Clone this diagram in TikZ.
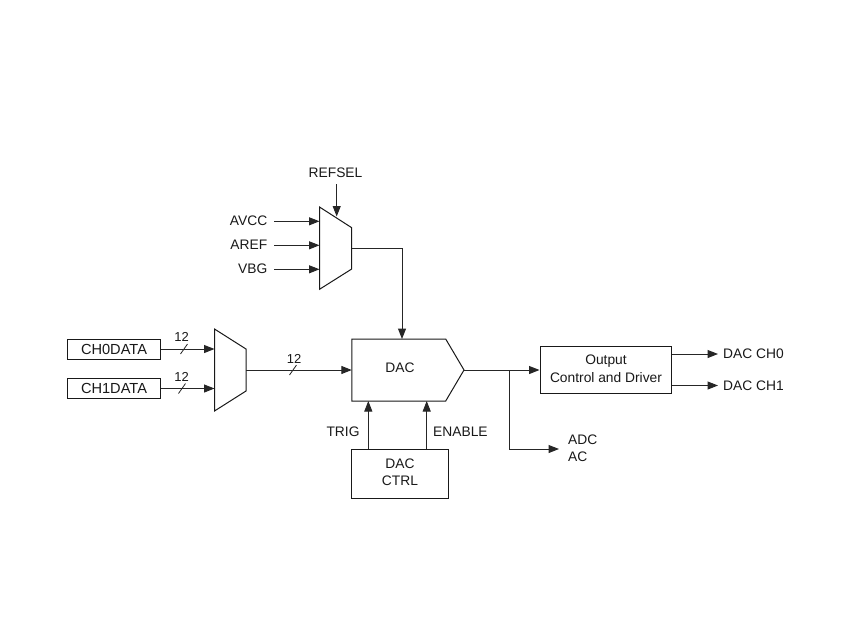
\documentclass[tikz,border=0pt]{standalone}
\usepackage{fontspec}
\setmainfont{Liberation Sans}
\usetikzlibrary{arrows.meta}
\tikzset{
  wire/.style={line width=1pt,draw=black!85},
  sig/.style={wire,-{Triangle[length=10.5pt,width=8pt]}},
  blockbox/.style={draw=black!90,line width=1pt,inner sep=0pt,align=center},
  shapeline/.style={draw=black!90,line width=1pt,line join=miter},
  lbl/.style={inner sep=0pt,font=\fontsize{13.8}{16}\selectfont,text=black!90,align=center},
  reglbl/.style={inner sep=0pt,font=\fontsize{14.6}{16}\selectfont,text=black!90,align=center},
  buswidth/.style={inner sep=0pt,font=\fontsize{13}{16}\selectfont,text=black!90},
  tick/.style={line width=0.8pt,draw=black!85}
}
\begin{document}
\begin{tikzpicture}[x=1pt,y=-1pt]
\useasboundingbox[fill=white] (0,0) rectangle (850,638);

% boxes
\node[blockbox,minimum width=93pt,minimum height=20pt,reglbl] (ch0) at (114,349) {CH0DATA};
\node[blockbox,minimum width=93pt,minimum height=20pt,reglbl] (ch1) at (114,388.5) {CH1DATA};
\node[blockbox,minimum width=131pt,minimum height=47pt] (out) at (605.8,369.8) {};
\node[lbl] (outa) at (606,361) {Output};
\node[lbl] (outb) at (606,378) {Control and Driver};
\node[blockbox,minimum width=97pt,minimum height=49pt] (ctrl) at (400,473.5) {};
\node[lbl] (ctrla) at (400,464) {DAC};
\node[lbl] (ctrlb) at (400,481) {CTRL};

% data mux
\draw[shapeline] (214.5,329) coordinate (mdtl) -- (246,349) coordinate (mdtr) -- (246,391) coordinate (mdbr) -- (214.5,411) coordinate (mdbl) -- cycle;
\coordinate (mdout) at (246,370);
\coordinate (mdin0) at (214.5,349);
\coordinate (mdin1) at (214.5,388.5);

% ref mux
\draw[shapeline] (319.5,207) coordinate (mrtl) -- (351.7,227.7) coordinate (mrtr) -- (351.7,269) coordinate (mrbr) -- (319.5,289.3) coordinate (mrbl) -- cycle;
\coordinate (mr1) at (319.5,221.3);
\coordinate (mr2) at (319.5,245.3);
\coordinate (mr3) at (319.5,269.3);
\coordinate (mrsel) at (336.7,216.5);
\coordinate (mrout) at (351.7,248.3);

% DAC
\draw[shapeline] (351.8,339) coordinate (dtl) -- (445.7,339) -- (464,370) coordinate (dtip) -- (445.7,401) -- (351.8,401) coordinate (dbl) -- cycle;
\node[lbl] (daclbl) at (400,368) {DAC};
\coordinate (dacin) at (351.8,370);
\coordinate (dacref) at (402,339);
\coordinate (dactrig) at (368.3,401);
\coordinate (dacen) at (426.7,401);

% labels
\node[lbl] (refsel) at (335.5,172.5) {REFSEL};
\node[lbl,anchor=east] (avcc) at (267.5,220.5) {AVCC};
\node[lbl,anchor=east] (aref) at (267.5,244.5) {AREF};
\node[lbl,anchor=east] (vbg) at (267.5,269) {VBG};
\node[lbl] (trig) at (343,432) {TRIG};
\node[lbl,anchor=west] (enable) at (433,432) {ENABLE};
\node[lbl,anchor=west] (ch0o) at (723,354) {DAC CH0};
\node[lbl,anchor=west] (ch1o) at (723,385.5) {DAC CH1};
\node[lbl,anchor=west] (adc) at (568,440) {ADC};
\node[lbl,anchor=west] (ac) at (568,457) {AC};
\node[buswidth] (w0) at (181.5,337) {12};
\node[buswidth] (w1) at (181.5,377) {12};
\node[buswidth] (w2) at (294,359) {12};

% connectors
\coordinate (avs) at (274,221.3);
\coordinate (ars) at (274,245.3);
\coordinate (vbs) at (274,269.3);
\coordinate (rs) at (336.7,184);
\draw[sig] (avs) -- (mr1);
\draw[sig] (ars) -- (mr2);
\draw[sig] (vbs) -- (mr3);
\draw[sig] (rs) -- (mrsel);
\draw[sig] (mrout) -| (dacref);
\draw[sig] (ch0.east |- mdin0) -- (mdin0);
\draw[sig] (ch1.east |- mdin1) -- (mdin1);
\draw[sig] (mdout) -- (dacin);
\draw[sig] (ctrl.north -| dactrig) -- (dactrig);
\draw[sig] (ctrl.north -| dacen) -- (dacen);
\coordinate (outin) at (539.5,370);
\draw[sig] (dtip) -- (outin);
\coordinate (branch) at (509.3,370);
\coordinate (adcin) at (559,449);
\draw[sig] (branch) |- (adcin);
\coordinate (o0) at (718,354);
\coordinate (o1) at (718,385.5);
\draw[sig] (out.east |- o0) -- (o0);
\draw[sig] (out.east |- o1) -- (o1);

% bus ticks
\draw[tick] (180.5,354) -- (187.5,344);
\draw[tick] (178.5,393.5) -- (185.5,383.5);
\draw[tick] (289.5,375) -- (296.5,365);
\end{tikzpicture}
\end{document}
